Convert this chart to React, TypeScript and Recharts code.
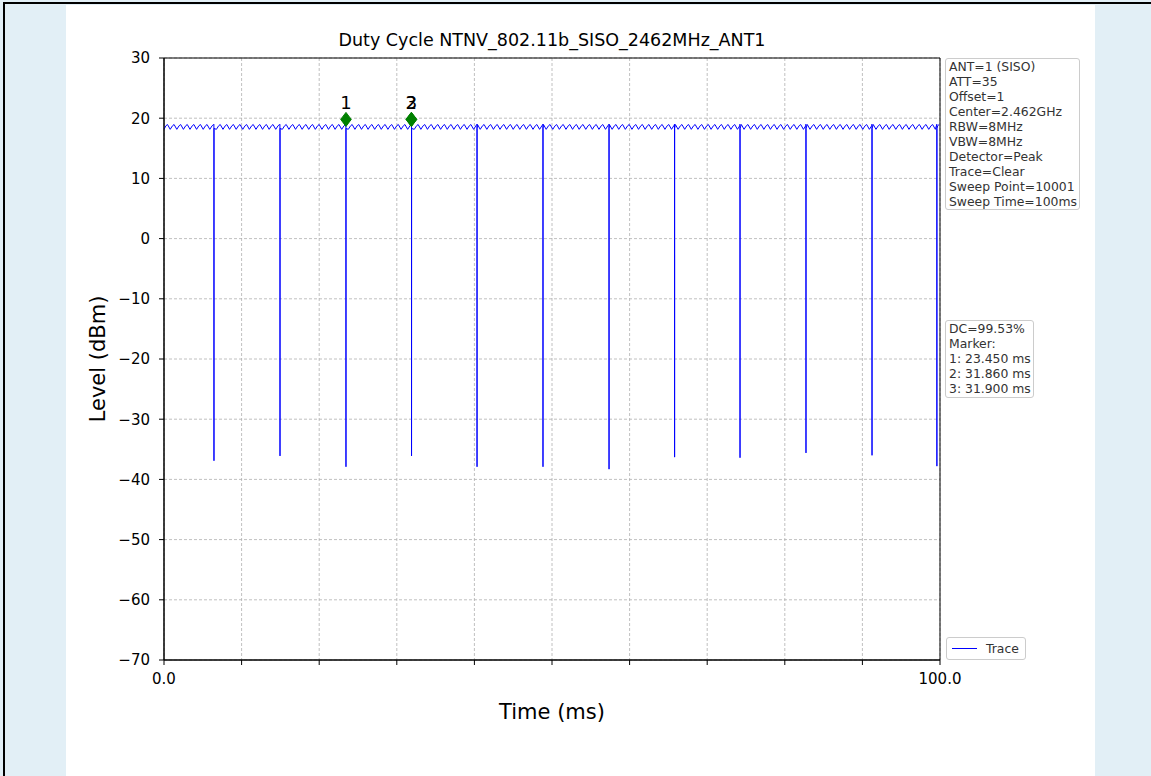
import React from 'react';
import {
  ComposedChart,
  Line,
  Scatter,
  XAxis,
  YAxis,
  CartesianGrid,
  ReferenceArea,
} from 'recharts';

// ---- data ----
const spikeTimes = [6.44, 14.95, 23.45, 31.9, 40.34, 48.84, 57.35, 65.8, 74.23, 82.73, 91.24, 99.6];
const spikeMins = [-36.9, -36.1, -37.9, -36.1, -37.9, -37.9, -38.3, -36.3, -36.4, -35.6, -36.0, -37.8];
const spikeTop = [19.0, 18.3];

const ripplePeaks = [
  0.45, 1.3, 2.15, 3.0, 3.85, 4.7, 5.55, 6.4, 7.25, 8.1,
  8.95, 9.8, 10.65, 11.5, 12.35, 13.2, 14.05, 14.9, 15.75, 16.6,
  17.45, 18.3, 19.15, 20.0, 20.85, 21.7, 22.55, 23.4, 24.25, 25.1,
  25.95, 26.8, 27.65, 28.5, 29.35, 30.2, 31.05, 31.9, 32.75, 33.6,
  34.45, 35.3, 36.15, 37.0, 37.85, 38.7, 39.55, 40.4, 41.25, 42.1,
  42.95, 43.8, 44.65, 45.5, 46.35, 47.2, 48.05, 48.9, 49.75, 50.6,
  51.45, 52.3, 53.15, 54.0, 54.85, 55.7, 56.55, 57.4, 58.25, 59.1,
  59.95, 60.8, 61.65, 62.5, 63.35, 64.2, 65.05, 65.9, 66.75, 67.6,
  68.45, 69.3, 70.15, 71.0, 71.85, 72.7, 73.55, 74.4, 75.25, 76.1,
  76.95, 77.8, 78.65, 79.5, 80.35, 81.2, 82.05, 82.9, 83.75, 84.6,
  85.45, 86.3, 87.15, 88.0, 88.85, 89.7, 90.55, 91.4, 92.25, 93.1,
  93.95, 94.8, 95.65, 96.5, 97.35, 98.2, 99.05, 99.9,
];
const rippleLevels = [18.15, 18.75, 18.95];

const markerLabels = ['1', '2', '3'];
const markerTimes = [23.45, 31.86, 31.9];
const markerLevels = [19.8, 19.8, 19.8];

const yTicks = [-70, -60, -50, -40, -30, -20, -10, 0, 10, 20, 30];
const xTicks = [0, 10, 20, 30, 40, 50, 60, 70, 80, 90, 100];
const xTickLabels: Record<number, string> = { 0: '0.0', 100: '100.0' };

const titleText = 'Duty Cycle NTNV_802.11b_SISO_2462MHz_ANT1';
const xLabel = 'Time (ms)';
const yLabel = 'Level (dBm)';
const seriesName = 'Trace';

const infoLines = [
  'ANT=1 (SISO)',
  'ATT=35',
  'Offset=1',
  'Center=2.462GHz',
  'RBW=8MHz',
  'VBW=8MHz',
  'Detector=Peak',
  'Trace=Clear',
  'Sweep Point=10001',
  'Sweep Time=100ms',
];
const dcLines = ['DC=99.53%', 'Marker:', '1: 23.450 ms', '2: 31.860 ms', '3: 31.900 ms'];

// ---- build tables ----
type Pt = { t: number; v: number };
const tracePoints: Pt[] = [];
ripplePeaks.forEach((p) => {
  tracePoints.push({ t: Math.max(0, p - 0.5), v: rippleLevels[0] });
  tracePoints.push({ t: Math.max(0, p - 0.2), v: rippleLevels[1] });
  tracePoints.push({ t: p, v: rippleLevels[2] });
});
spikeTimes.forEach((s, i) => {
  tracePoints.push({ t: s - 0.01, v: spikeTop[0] });
  tracePoints.push({ t: s, v: spikeMins[i] });
  tracePoints.push({ t: s + 0.01, v: spikeTop[1] });
});
tracePoints.sort((a, b) => a.t - b.t);
const traceData = tracePoints.filter((p) => p.t >= 0 && p.t <= 100);

const markerData = markerTimes.map((t, i) => ({ t, v: markerLevels[i], label: markerLabels[i] }));

const FONT = '"DejaVu Sans", sans-serif';
const fmtY = (v: number) => (v < 0 ? '\u2212' + Math.abs(v) : String(v));

const MarkerShape = (props: any) => {
  const { cx, cy, payload } = props;
  const hw = 5.3;
  const hh = 7;
  return (
    <g>
      <polygon
        points={`${cx},${cy - hh} ${cx + hw},${cy} ${cx},${cy + hh} ${cx - hw},${cy}`}
        fill="#008000"
        stroke="#008000"
      />
      <text
        x={cx}
        y={cy - 10}
        textAnchor="middle"
        fontSize={18}
        fontFamily={FONT}
        fill="#000"
      >
        {payload.label}
      </text>
    </g>
  );
};

const boxStyle: React.CSSProperties = {
  position: 'absolute',
  background: 'rgba(255,255,255,0.8)',
  border: '1px solid #cccccc',
  borderRadius: 3,
  fontFamily: FONT,
  fontSize: 12.4,
  lineHeight: '15px',
  color: '#333333',
  boxSizing: 'border-box',
  whiteSpace: 'nowrap',
};

export default function App() {
  return (
    <div
      style={{
        position: 'absolute',
        left: 0,
        top: 0,
        width: 1151,
        height: 776,
        background: '#e2eff6',
        overflow: 'hidden',
      }}
    >
      <div
        style={{
          position: 'absolute',
          left: 3,
          top: 2,
          width: 1148,
          height: 774,
          borderTop: '2px solid #000',
          borderLeft: '2px solid #000',
          boxSizing: 'border-box',
        }}
      />
      <div
        style={{ position: 'absolute', left: 66, top: 5, width: 1029, height: 771, background: '#fff' }}
      />
      <div style={{ position: 'absolute', left: 0, top: 0 }}>
        <ComposedChart
          width={1151}
          height={776}
          margin={{ top: 58, right: 211, bottom: 86, left: 104 }}
        >
          <CartesianGrid stroke="#b0b0b0" strokeDasharray="3 2" strokeWidth={0.8} />
          <XAxis
            dataKey="t"
            type="number"
            domain={[0, 100]}
            ticks={xTicks}
            tickFormatter={(v: number) => xTickLabels[v] ?? ''}
            allowDataOverflow
            height={30}
            tickSize={5}
            tickMargin={8}
            tick={{ fill: '#000', fontSize: 15, fontFamily: FONT }}
            tickLine={{ stroke: '#000' }}
            axisLine={{ stroke: '#000' }}
          />
          <YAxis
            type="number"
            domain={[-70, 30]}
            ticks={yTicks}
            tickFormatter={fmtY}
            allowDataOverflow
            width={60}
            tickSize={5}
            tickMargin={9}
            tick={{ fill: '#000', fontSize: 15, fontFamily: FONT }}
            tickLine={{ stroke: '#000' }}
            axisLine={{ stroke: '#000' }}
          />
          <Line
            data={traceData}
            dataKey="v"
            name={seriesName}
            type="linear"
            stroke="#0000ff"
            strokeWidth={1}
            dot={false}
            activeDot={false}
            isAnimationActive={false}
          />
          <Scatter
            data={markerData}
            dataKey="v"
            shape={MarkerShape}
            isAnimationActive={false}
          />
          <ReferenceArea
            x1={0}
            x2={100}
            y1={-70}
            y2={30}
            fill="none"
            stroke="#000"
            strokeWidth={1}
            ifOverflow="visible"
          />
        </ComposedChart>
      </div>

      {/* title and axis labels */}
      <div
        style={{
          position: 'absolute',
          left: 252,
          width: 600,
          top: 29,
          textAlign: 'center',
          fontFamily: FONT,
          fontSize: 17.5,
          lineHeight: '22px',
          color: '#000',
        }}
      >
        {titleText}
      </div>
      <div
        style={{
          position: 'absolute',
          left: 352,
          width: 400,
          top: 699,
          textAlign: 'center',
          fontFamily: FONT,
          fontSize: 21,
          lineHeight: '26px',
          color: '#000',
        }}
      >
        {xLabel}
      </div>
      <div
        style={{
          position: 'absolute',
          left: 98 - 150,
          top: 359 - 13,
          width: 300,
          textAlign: 'center',
          fontFamily: FONT,
          fontSize: 21,
          lineHeight: '26px',
          color: '#000',
          transform: 'rotate(-90deg)',
        }}
      >
        {yLabel}
      </div>

      {/* info boxes */}
      <div style={{ ...boxStyle, left: 945, top: 58, width: 135, height: 152, padding: '0 0 0 3px' }}>
        {infoLines.map((l) => (
          <div key={l}>{l}</div>
        ))}
      </div>
      <div style={{ ...boxStyle, left: 945, top: 320, width: 89, height: 78, padding: '0 0 0 3px' }}>
        {dcLines.map((l) => (
          <div key={l}>{l}</div>
        ))}
      </div>
      <div style={{ ...boxStyle, left: 946, top: 637, width: 80, height: 23 }}>
        <div
          style={{ position: 'absolute', left: 5, top: 10, width: 25, height: 0, borderTop: '1.5px solid #0000ff' }}
        />
        <div style={{ position: 'absolute', left: 39, top: 3 }}>{seriesName}</div>
      </div>
    </div>
  );
}
